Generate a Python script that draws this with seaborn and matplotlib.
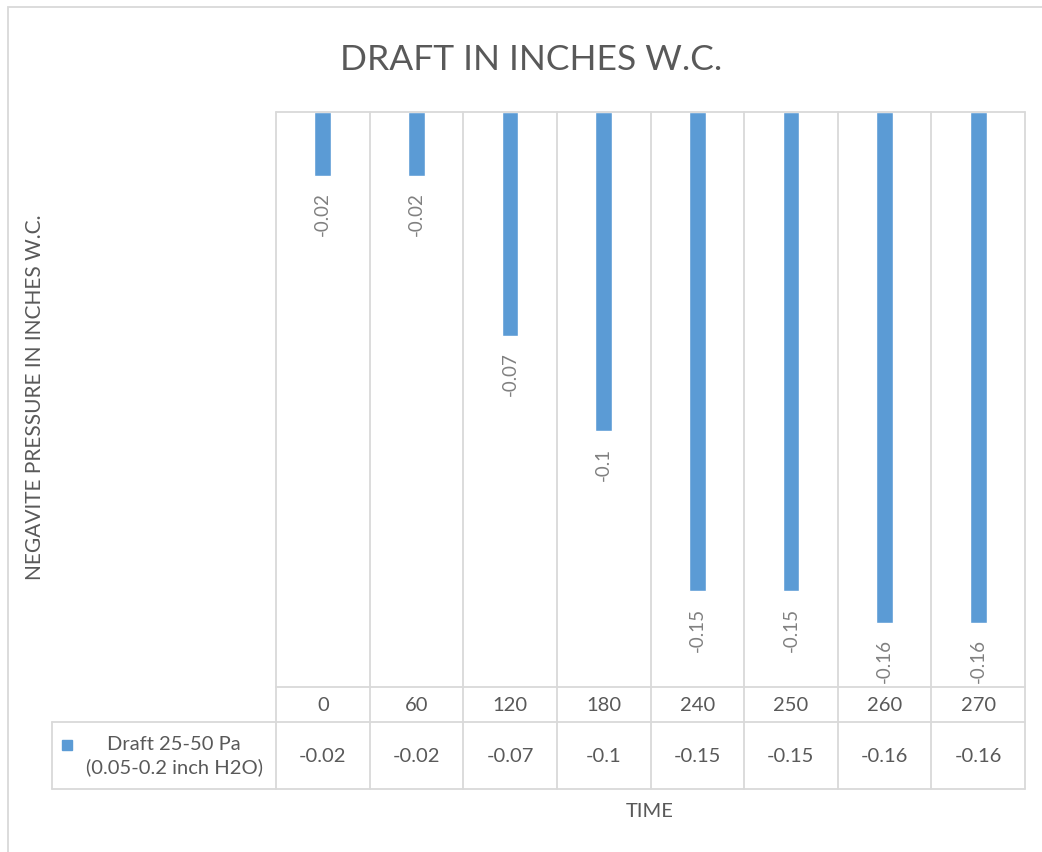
import matplotlib
matplotlib.use("Agg")
import matplotlib.pyplot as plt
import matplotlib.transforms as mtransforms
from matplotlib.patches import Rectangle
import pandas as pd
import seaborn as sns

# data
times = ["0", "60", "120", "180", "240", "250", "260", "270"]
draft = [-0.02, -0.02, -0.07, -0.1, -0.15, -0.15, -0.16, -0.16]
series_name = "Draft 25-50 Pa\n(0.05-0.2 inch H2O)"

df = pd.DataFrame({"time": times, "draft": draft})

sns.set_style("white")
plt.rcParams["font.family"] = ["Lato", "DejaVu Sans"]

BAR = "#5B9BD5"
GRID = "#D9D9D9"
TXT = "#595959"

W, H = 1042, 853
fig = plt.figure(figsize=(W / 100, H / 100), dpi=100)

def fx(px):
    return px / W

def fy(py):
    return 1 - py / H

left, right, top, bottom = 276, 1025, 113, 688
ax = fig.add_axes([fx(left), fy(bottom), fx(right) - fx(left), fy(top) - fy(bottom)])

sns.barplot(data=df, x="time", y="draft", order=times, color=BAR, width=0.18,
            saturation=1, ax=ax)
ax.set_ylim(-0.18, 0)
ax.set_xlim(-0.5, len(times) - 0.5)
ax.set_xticks([])
ax.set_yticks([])
ax.set_xlabel("")
ax.set_ylabel("")
for s in ax.spines.values():
    s.set_visible(False)

# data labels under each bar
for i, v in enumerate(draft):
    ax.annotate(f"{v:g}", xy=(i, v), xytext=(0, -11), textcoords="offset points",
                rotation=90, ha="center", va="top", fontsize=13.5, color="#808080")

# grid + data table lines (axes x in data units, y in figure)
tr = mtransforms.blended_transform_factory(ax.transData, fig.transFigure)
row1, row2 = 723, 790
for b in [i - 0.5 for i in range(len(times) + 1)]:
    ax.plot([b, b], [fy(top), fy(row2)], color=GRID, lw=1.3, transform=tr, clip_on=False)
ax.plot([-0.5, len(times) - 0.5], [fy(top)] * 2, color=GRID, lw=1.3, transform=tr, clip_on=False)
ax.plot([-0.5, len(times) - 0.5], [fy(bottom)] * 2, color=GRID, lw=1.3, transform=tr, clip_on=False)
for yy in (row1, row2):
    fig.add_artist(plt.Line2D([fx(52), fx(right)], [fy(yy)] * 2, color=GRID, lw=1.3))
fig.add_artist(plt.Line2D([fx(52)] * 2, [fy(row1), fy(row2)], color=GRID, lw=1.3))

for i, (t, v) in enumerate(zip(times, draft)):
    ax.text(i, fy((bottom + row1) / 2), t, transform=tr, ha="center", va="center",
            fontsize=14.5, color=TXT)
    ax.text(i, fy((row1 + row2) / 2), f"{v:g}", transform=tr, ha="center", va="center",
            fontsize=14.5, color=TXT)

# legend key inside the table
fig.add_artist(Rectangle((fx(62), fy(751)), fx(10), 10 / H, color=BAR))
fig.text(fx(174), fy((row1 + row2) / 2), series_name, ha="center", va="center",
         fontsize=14.5, color=TXT, linespacing=1.35)

# outer chart border
fig.add_artist(Rectangle((fx(8), fy(870)), fx(1060), 862 / H, fill=False,
                         edgecolor=GRID, lw=1.3))

fig.text(fx(531), fy(60), "DRAFT IN INCHES W.C.", ha="center", va="center",
         fontsize=25.5, color=TXT)
fig.text(fx(35), fy(397), "NEGAVITE PRESSURE IN INCHES W.C.", rotation=90,
         ha="center", va="center", fontsize=15, color=TXT)
fig.text(fx(650), fy(812), "TIME", ha="center", va="center", fontsize=14.5, color=TXT)

fig.savefig("out.png", dpi=100)
